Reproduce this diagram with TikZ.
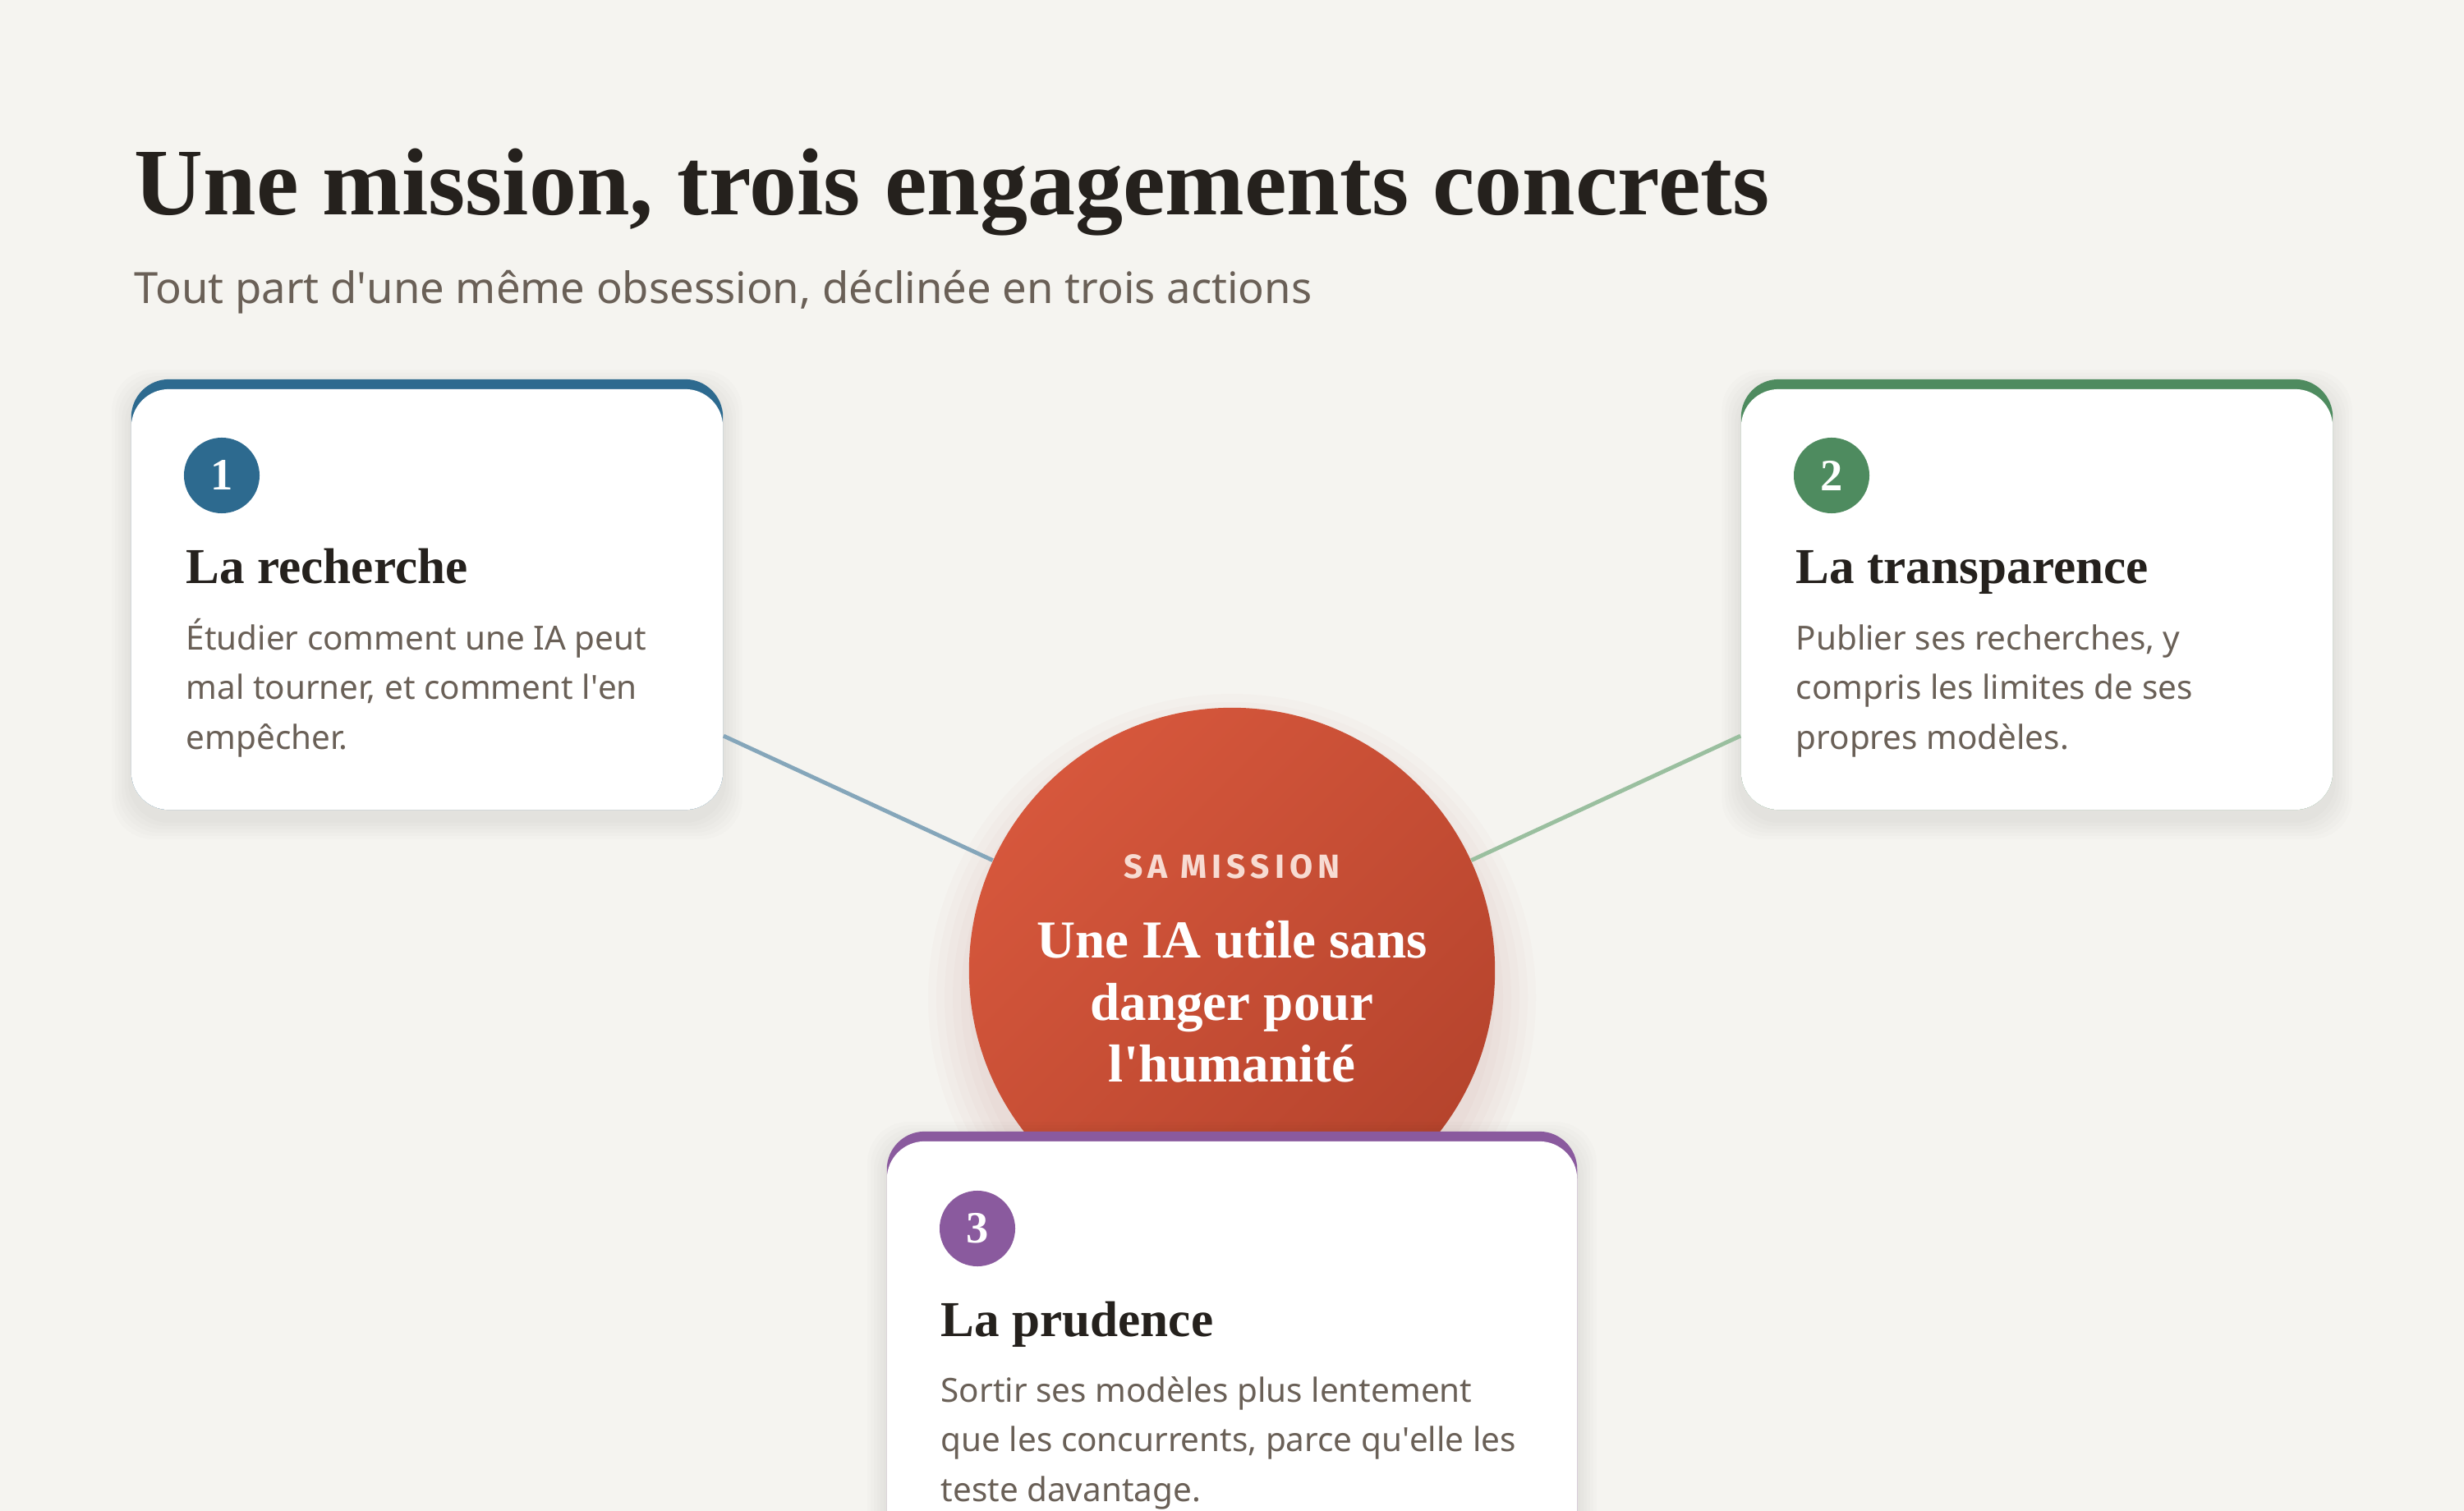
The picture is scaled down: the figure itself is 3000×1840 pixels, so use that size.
\documentclass[tikz,border=0pt]{standalone}
\usepackage{fontspec}
\setmainfont{Liberation Serif}
\newfontfamily\bodyfont{Noto Sans}
\newfontfamily\kickerfont[LetterSpace=15]{Fira Sans}
\usetikzlibrary{positioning}

\definecolor{paper}{HTML}{F5F4F0}
\definecolor{ink}{HTML}{25211D}
\definecolor{mute}{HTML}{6A6057}
\definecolor{blueA}{HTML}{2D6A8F}
\definecolor{greenA}{HTML}{4E8B5F}
\definecolor{purpleA}{HTML}{8A5A9E}
\definecolor{redL}{HTML}{D6573C}
\definecolor{redD}{HTML}{B6442D}
\definecolor{blush}{HTML}{F7DBD2}
\definecolor{linkblue}{HTML}{85A6BA}
\definecolor{linkgreen}{HTML}{9ABF9F}

\newcommand{\apos}{\textquotesingle}

\begin{document}
\begin{tikzpicture}[x=0.01cm, y=-0.01cm,
  card/.style={rectangle, rounded corners=0.46cm, fill=white, inner sep=0, minimum width=7.2cm, minimum height=5.12cm},
  band/.style={card, minimum height=5.24cm},
  badge/.style={circle, inner sep=0, minimum size=0.92cm, text=white, font=\bfseries\fontsize{15.5}{15.5}\selectfont},
  heading/.style={anchor=base west, inner sep=0, text=ink, font=\bfseries\fontsize{17.4}{20}\selectfont},
  body/.style={anchor=base west, inner sep=0, align=left, text=mute, font=\bodyfont\fontsize{11.5}{17.07}\selectfont},
  haze/.style={black, opacity=0.012, rounded corners=0.5cm},
  link/.style={line width=1.4pt}]

  \useasboundingbox (0,0) rectangle (3000,1840);
  \fill[paper] (0,0) rectangle (3000,1840);

  \node[anchor=base west, inner sep=0, text=ink, font=\bfseries\fontsize{33}{38}\selectfont] (title) at (163,262) {Une mission, trois engagements concrets};
  \node[anchor=base west, inner sep=0, text=mute, font=\bodyfont\fontsize{14.95}{18}\selectfont] (sub) at (163,370) {Tout part d\apos une même obsession, déclinée en trois actions};

  % soft shadows
  \foreach \px/\py in {160/462, 2120/462}
    \foreach \s in {4,8,...,24}
      \fill[haze] (\px-\s,\py-\s+12) rectangle (\px+720+\s,\py+524+\s+12);
  \foreach \r in {10,20,...,60}
    \fill[redD, opacity=0.018] (1500,1215) circle (310+\r);

  % the mission
  \node[circle, inner sep=0, minimum size=6.4cm, top color=redL, bottom color=redD, shading angle=45] (mis) at (1500,1182) {};
  \node[anchor=base, inner sep=0, text=blush, font=\kickerfont\bfseries\fontsize{11.6}{13}\selectfont] (kick) at (1500,1069) {SA MISSION};
  \node[anchor=north, align=center, inner sep=0, text=white, font=\bfseries\fontsize{18.5}{21.4}\selectfont] (goal) at (1500,1121) {Une IA utile sans\\danger pour\\l\apos humanité};

  % cards
  \node[band, fill=blueA] (t1) at (520,724) {};
  \node[card] (c1) at (520,730) {};
  \node[band, fill=greenA] (t2) at (2480,724) {};
  \node[card] (c2) at (2480,730) {};

  \foreach \s in {4,8,...,24}
    \fill[haze] (1080-\s,1378-\s+12) rectangle (1920+\s,1960);
  \node[band, fill=purpleA, minimum width=8.4cm, minimum height=5.82cm] (t3) at (1500,1669) {};
  \node[card, minimum width=8.4cm, minimum height=5.7cm] (c3) at (1500,1675) {};

  \node[badge, fill=blueA] (b1) at (270,579) {1};
  \node[heading] (h1) at (226,711) {La recherche};
  \node[body] (d1) at (226,912) {Étudier comment une IA peut\\mal tourner, et comment l\apos en\\empêcher.};

  \node[badge, fill=greenA] (b2) at (2230,579) {2};
  \node[heading] (h2) at (2186,711) {La transparence};
  \node[body] (d2) at (2186,912) {Publier ses recherches, y\\compris les limites de ses\\propres modèles.};

  \node[badge, fill=purpleA] (b3) at (1190,1496) {3};
  \node[heading] (h3) at (1145,1627) {La prudence};
  \node[body] (d3) at (1145,1828) {Sortir ses modèles plus lentement\\que les concurrents, parce qu\apos elle les\\teste davantage.};

  \path[link]
       (c1) edge[draw=linkblue] (mis)
       (c2) edge[draw=linkgreen] (mis);
\end{tikzpicture}
\end{document}
